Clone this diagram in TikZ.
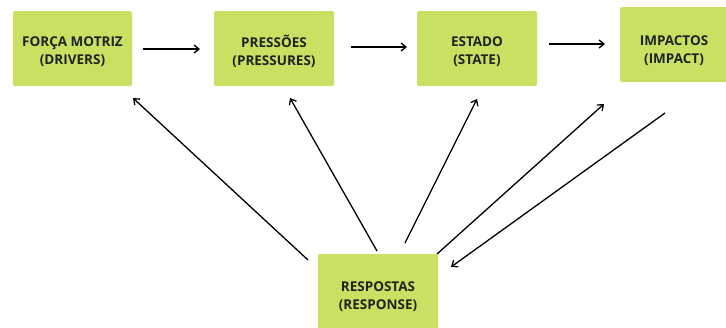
\documentclass[tikz,border=0pt]{standalone}
\usepackage{fontspec}
\setmainfont{Open Sans}
\usetikzlibrary{arrows.meta}
\definecolor{boxgreen}{HTML}{C8E163}
\definecolor{txt}{HTML}{222222}
\begin{document}
\begin{tikzpicture}[x=1pt,y=-1pt,
  box/.style={fill=boxgreen, draw=none, rounded corners=1.5pt, inner sep=0pt},
  lbl/.style={inner sep=0pt, align=center, text=txt, font=\fontsize{13.5}{18}\selectfont\bfseries},
  conn/.style={line width=1.3pt, -{Straight Barb[length=5pt,width=8pt,line width=1.3pt]}}]
\useasboundingbox (0,0) rectangle (726,327);
\node[box, minimum width=119pt, minimum height=75pt] (drv) at (72.5,48.5) {};
\node[box, minimum width=120pt, minimum height=75pt] (prs) at (274,48.5) {};
\node[box, minimum width=120pt, minimum height=75pt] (sta) at (477,48.5) {};
\node[box, minimum width=108pt, minimum height=75pt] (imp) at (674,44.5) {};
\node[box, minimum width=120pt, minimum height=76pt] (rsp) at (378,292) {};
\node[lbl] (drvt) at ([yshift=-3pt]drv.center) {FORÇA MOTRIZ\\(DRIVERS)};
\node[lbl] (prst) at ([yshift=-3pt]prs.center) {PRESSÕES\\(PRESSURES)};
\node[lbl] (stat) at ([yshift=-3pt]sta.center) {ESTADO\\(STATE)};
\node[lbl] (impt) at ([yshift=-6pt]imp.center) {IMPACTOS\\(IMPACT)};
\node[lbl] (rspt) at ([yshift=-5pt]rsp.center) {RESPOSTAS\\(RESPONSE)};
% horizontal arrow ends
\coordinate (h1a) at (143,49); \coordinate (h1b) at (200,49);
\coordinate (h2a) at (351,47); \coordinate (h2b) at (407,47);
\coordinate (h3a) at (549,44); \coordinate (h3b) at (605,44);
\draw[conn] (h1a) -- (h1b);
\draw[conn] (h2a) -- (h2b);
\draw[conn] (h3a) -- (h3b);
% diagonal arrows
\coordinate (d1a) at (308,260); \coordinate (d1b) at (133,98);
\coordinate (d2a) at (377,251); \coordinate (d2b) at (290,98);
\coordinate (d3a) at (405,243); \coordinate (d3b) at (477,99);
\coordinate (d4a) at (437,254); \coordinate (d4b) at (604,104);
\coordinate (d5a) at (665,113); \coordinate (d5b) at (451,267);
\draw[conn] (d1a) -- (d1b);
\draw[conn] (d2a) -- (d2b);
\draw[conn] (d3a) -- (d3b);
\draw[conn] (d4a) -- (d4b);
\draw[conn] (d5a) -- (d5b);
\end{tikzpicture}
\end{document}
